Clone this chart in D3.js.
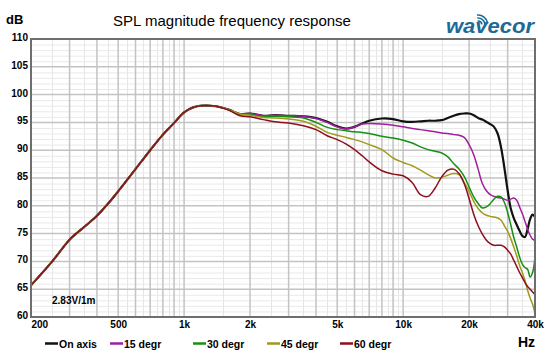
<!DOCTYPE html>
<html>
<head>
<meta charset="utf-8">
<script src="https://cdn.jsdelivr.net/npm/d3@7"></script>
<style>
  body { margin: 0; background: #fff; }
  svg { display: block; font-family: Arial, "Liberation Sans", sans-serif; }
</style>
</head>
<body>
<div id="chart"></div>
<script>
var width = 550;
var height = 355;
var margin = ({top: 39, right: 15, bottom: 38, left: 31});

// frequencies (Hz) shared by every curve
var freqs = [200, 250, 300, 350, 400, 450, 500, 600, 700, 800, 900, 1000, 1100, 1200, 1400, 1600, 1800,
  2000, 2300, 2600, 3000, 3500, 4000, 4500, 5000, 5500, 6000, 6500, 7000,
  8000, 9000, 10000, 11000, 12000, 13000, 14000, 15000, 16000, 17000, 18000, 19000, 20000,
  21000, 22000, 23000, 24000, 25000, 26000, 27000, 28000, 29000, 30000,
  31000, 32000, 33000, 34000, 35000, 36000, 37000, 38000, 39000, 40000];

var onAxis = [65.7, 70.0, 73.9, 76.2, 78.2, 80.4, 82.6, 86.6, 90.0, 92.8, 94.9, 96.8, 97.7, 98.0, 97.9, 97.3, 96.5,
  96.6, 96.2, 96.3, 96.2, 96.1, 95.8, 95.1, 94.3, 93.9, 94.2, 94.8, 95.3,
  95.7, 95.6, 95.2, 95.1, 95.2, 95.3, 95.3, 95.4, 95.8, 96.2, 96.5, 96.6, 96.6,
  96.3, 95.8, 95.5, 95.1, 94.7, 94.2, 93.0, 90.5, 86.8, 82.8,
  79.5, 77.8, 76.6, 75.5, 74.6, 74.4, 75.8, 77.6, 78.4, 78.0];

var deg15 = [65.7, 70.0, 73.9, 76.2, 78.2, 80.4, 82.6, 86.6, 90.0, 92.8, 94.9, 96.8, 97.7, 98.0, 97.9, 97.3, 96.5,
  96.6, 96.2, 96.3, 96.2, 96.1, 95.7, 95.0, 94.2, 93.8, 94.2, 94.7, 94.8,
  94.7, 94.5, 94.2, 93.9, 93.7, 93.5, 93.3, 93.1, 93.0, 92.8, 92.7, 92.3, 91.0,
  89.2, 86.6, 84.0, 82.7, 82.0, 81.7, 81.5, 81.4, 81.2, 81.0,
  81.2, 81.4, 81.0, 79.8, 78.6, 77.2, 75.8, 74.7, 74.0, 73.8];

var deg30 = [65.7, 70.0, 73.9, 76.2, 78.2, 80.4, 82.6, 86.6, 90.0, 92.8, 94.9, 96.8, 97.7, 98.0, 97.9, 97.3, 96.5,
  96.4, 96.0, 96.1, 96.0, 95.8, 95.0, 94.1, 93.7, 93.5, 93.3, 93.2, 93.0,
  92.5, 92.2, 91.8, 91.3, 90.6, 90.1, 89.8, 89.5, 88.8, 87.6, 86.6, 85.3, 83.4,
  81.6, 80.4, 79.6, 79.8, 80.4, 81.2, 81.7, 81.6, 80.6, 78.8,
  76.6, 74.3, 72.6, 70.8, 69.5, 68.9, 68.6, 67.2, 68.0, 70.8];

var deg45 = [65.7, 70.0, 73.9, 76.2, 78.2, 80.4, 82.6, 86.6, 90.0, 92.8, 94.9, 96.8, 97.7, 98.0, 97.9, 97.3, 96.5,
  96.3, 95.9, 95.8, 95.6, 95.2, 94.3, 93.2, 92.7, 92.3, 91.9, 91.5, 91.0,
  90.1, 88.6, 87.8, 87.2, 86.4, 85.6, 85.0, 85.1, 85.5, 85.8, 85.6, 84.2, 82.6,
  80.8, 79.5, 78.7, 78.3, 78.1, 78.0, 77.8, 77.4, 76.4, 75.4,
  74.1, 72.6, 71.0, 69.3, 68.0, 66.6, 64.8, 63.4, 62.3, 60.7];

var deg60 = [65.7, 70.0, 73.9, 76.2, 78.2, 80.4, 82.6, 86.6, 90.0, 92.8, 94.9, 96.8, 97.7, 98.0, 97.9, 97.2, 96.2,
  96.0, 95.5, 95.1, 94.9, 94.4, 93.7, 92.6, 91.9, 91.1, 90.1, 89.0, 87.9,
  86.3, 85.7, 85.4, 84.2, 82.0, 81.7, 83.2, 85.2, 86.4, 86.6, 85.8, 84.0, 81.3,
  78.5, 76.4, 74.9, 73.8, 73.2, 72.9, 72.9, 72.9, 72.6, 72.0,
  71.3, 70.2, 69.1, 68.0, 67.1, 66.2, 65.5, 65.0, 64.5, 64.0];

var seriesNames = ["On axis", "15 degr", "30 degr", "45 degr", "60 degr"];
var seriesValues = [onAxis, deg15, deg30, deg45, deg60];
var colors = ["#111111", "#a01ea0", "#159015", "#a09a1c", "#8c0f1e"];

var xTickValues = [200, 500, 1000, 2000, 5000, 10000, 20000, 40000];
var xTickLabels = ["200", "500", "1k", "2k", "5k", "10k", "20k", "40k"];
var yTickValues = [60, 65, 70, 75, 80, 85, 90, 95, 100, 105, 110];

var x = d3.scaleLog()
  .domain([200, 40000])
  .range([margin.left, width - margin.right]);

var y = d3.scaleLinear()
  .domain([60, 110])
  .range([height - margin.bottom, margin.top]);

var svg = d3.select("#chart").append("svg")
  .attr("width", width)
  .attr("height", height)
  .attr("viewBox", [0, 0, width, height]);

// grid lines: 100 Hz steps below 1k, 1k steps below 10k, 10k steps above
var majorF = [], minorF = [];
[[200, 1000, 100], [1000, 10000, 1000], [10000, 40000, 10000]].forEach(function(r) {
  for (var f = r[0]; f < r[1]; f += r[2]) {
    if (f > 200) majorF.push(f);
    minorF.push(f + r[2] / 2);
  }
});
var minorDb = d3.range(61, 110).filter(d => d % 5 != 0);
var majorDb = d3.range(65, 110, 5);

var grid = svg.append("g");
grid.selectAll(".hmin").data(minorDb).join("line")
  .attr("x1", margin.left).attr("x2", width - margin.right)
  .attr("y1", d => y(d) + 0.5).attr("y2", d => y(d) + 0.5)
  .attr("stroke", "#e9e9e9");
grid.selectAll(".vmin").data(minorF).join("line")
  .attr("x1", d => Math.round(x(d)) + 0.5).attr("x2", d => Math.round(x(d)) + 0.5)
  .attr("y1", margin.top).attr("y2", height - margin.bottom)
  .attr("stroke", "#e6e6e6");
grid.selectAll(".hmaj").data(majorDb).join("line")
  .attr("x1", margin.left).attr("x2", width - margin.right)
  .attr("y1", d => y(d)).attr("y2", d => y(d))
  .attr("stroke", "#c3c3c3").attr("stroke-width", 1.5);
grid.selectAll(".vmaj").data(majorF).join("line")
  .attr("x1", d => x(d)).attr("x2", d => x(d))
  .attr("y1", margin.top).attr("y2", height - margin.bottom)
  .attr("stroke", "#c3c3c3").attr("stroke-width", 1.5);

// curves
var line = d3.line()
  .curve(d3.curveCatmullRom.alpha(0.5))
  .x(d => x(d[0]))
  .y(d => y(d[1]));

svg.append("defs").append("clipPath").attr("id", "clip")
  .append("rect")
  .attr("x", margin.left).attr("y", margin.top)
  .attr("width", width - margin.left - margin.right)
  .attr("height", height - margin.top - margin.bottom);

svg.append("g")
  .attr("clip-path", "url(#clip)")
  .selectAll("path")
  .data(seriesValues)
  .join("path")
    .attr("fill", "none")
    .attr("stroke", (d, i) => colors[i])
    .attr("stroke-width", (d, i) => i == 0 ? 2.2 : 1.5)
    .attr("stroke-linejoin", "round")
    .attr("d", vals => line(freqs.map((f, j) => [f, vals[j]])));

// frame
svg.append("rect")
  .attr("x", margin.left).attr("y", margin.top)
  .attr("width", width - margin.left - margin.right)
  .attr("height", height - margin.top - margin.bottom)
  .attr("fill", "none")
  .attr("stroke", "#6e6e6e")
  .attr("stroke-width", 2);

// axes (labels only)
var yAxis = g => g
  .attr("transform", `translate(${margin.left},0)`)
  .call(d3.axisLeft(y).tickValues(yTickValues).tickSize(0).tickPadding(3))
  .call(g => g.select(".domain").remove())
  .call(g => g.selectAll("text")
    .attr("dy", "0.15em")
    .attr("fill", "#000")
    .attr("font-size", 10)
    .attr("font-weight", "bold")
    .attr("font-family", "Arial, 'Liberation Sans', sans-serif"));

var xAxis = g => g
  .attr("transform", `translate(0,${height - margin.bottom})`)
  .call(d3.axisBottom(x).tickValues(xTickValues).tickSize(0).tickPadding(4)
    .tickFormat((d, i) => xTickLabels[i]))
  .call(g => g.select(".domain").remove())
  .call(g => g.selectAll("text")
    .attr("fill", "#000")
    .attr("font-size", 10)
    .attr("font-weight", "bold")
    .attr("font-family", "Arial, 'Liberation Sans', sans-serif"))
  .call(g => g.selectAll(".tick").filter(d => d == 200).select("text")
    .attr("text-anchor", "start"));

svg.append("g").call(yAxis);
svg.append("g").call(xAxis);

// titles
svg.append("text")
  .attr("x", 6).attr("y", 24)
  .attr("font-size", 13).attr("font-weight", "bold")
  .text("dB");

svg.append("text")
  .attr("x", 113).attr("y", 26)
  .attr("font-size", 15)
  .text("SPL magnitude frequency response");

svg.append("text")
  .attr("x", 535).attr("y", 347)
  .attr("text-anchor", "end")
  .attr("font-size", 14).attr("font-weight", "bold")
  .text("Hz");

svg.append("text")
  .attr("x", 52).attr("y", 304)
  .attr("font-size", 10).attr("font-weight", "bold")
  .text("2.83V/1m");

// logo
var logo = svg.append("g").attr("fill", "#1d6a96");
logo.append("text")
  .attr("x", 446).attr("y", 33)
  .attr("font-size", 20)
  .attr("font-style", "italic")
  .attr("font-weight", "bold")
  .attr("textLength", 88)
  .attr("lengthAdjust", "spacingAndGlyphs")
  .text("wavecor");
[4, 7, 10].forEach(function(r) {
  logo.append("path")
    .attr("transform", "translate(478,25)")
    .attr("d", d3.arc()({innerRadius: r - 0.8, outerRadius: r + 0.8, startAngle: -0.1, endAngle: 1.4}));
});

// legend
var legendX = [45, 110, 193, 267, 340];
var legend = svg.append("g")
  .selectAll("g")
  .data(seriesNames)
  .join("g")
    .attr("transform", (d, i) => `translate(${legendX[i]},343.5)`);
legend.append("line")
  .attr("x1", 0).attr("x2", 13)
  .attr("stroke", (d, i) => colors[i])
  .attr("stroke-width", 2.5);
legend.append("text")
  .attr("x", 14).attr("y", 4)
  .attr("font-size", 10.5).attr("font-weight", "bold")
  .text(d => d);
</script>
</body>
</html>
